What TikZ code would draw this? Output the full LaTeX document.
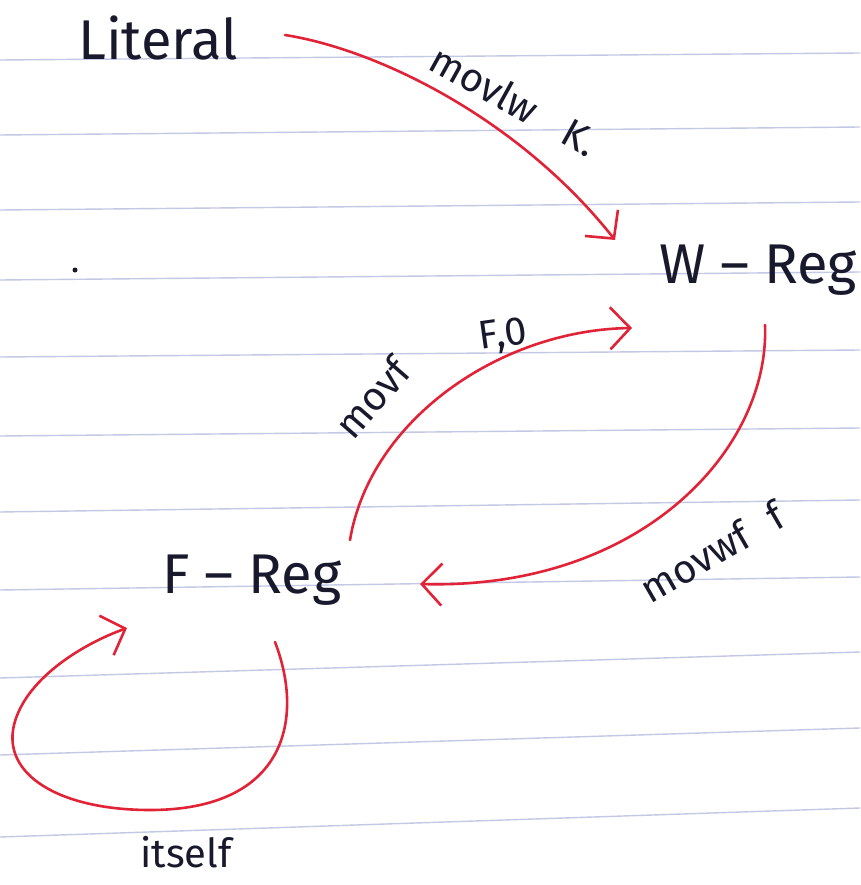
\documentclass[tikz,border=0pt]{standalone}
\usepackage{fontspec}
\setmainfont{Fira Sans}
\usetikzlibrary{arrows.meta}
\definecolor{ink}{RGB}{25,25,45}
\definecolor{pen}{RGB}{225,35,55}
\definecolor{rulecol}{RGB}{195,200,228}
\begin{document}
\begin{tikzpicture}[x=1pt,y=-1pt,
  lbl/.style={text=ink, font=\fontsize{56}{60}\selectfont, inner sep=0pt},
  elbl/.style={text=ink, font=\fontsize{40}{44}\selectfont, inner sep=0pt},
  conn/.style={draw=pen, line width=2.6pt, line cap=round,
    -{Straight Barb[length=20pt,width=42pt,line width=2.6pt]}},
  ruled/.style={draw=rulecol, line width=1.4pt}]
\useasboundingbox (0,0) rectangle (860,885);
\fill[white] (0,0) rectangle (860,885);
% ruled paper
\foreach \l/\r in {60/53,135/127,210/202,280/272,357/350,436/428,512/500,590/577,678/652,755/728,837/808}
  \draw[ruled] (0,\l) -- (860,\r);
% stray dot
\fill[ink] (75,270) circle (2.5pt);
% nodes
\node[lbl] (lit) at (158,38) {Literal};
\node[lbl] (wreg) at (758,270) {W -- Reg};
\node[lbl] (freg) at (252,580) {F -- Reg};
% connectors
\draw[conn] ([shift={(127,-3)}]lit.center) .. controls (380,50) and (520,120) .. ([shift={(-143,-30)}]wreg.center);
\draw[conn] ([shift={(98,-40)}]freg.center) .. controls (370,420) and (500,330) .. ([shift={(-126,58)}]wreg.center);
\draw[conn] ([shift={(7,55)}]wreg.center) .. controls (770,450) and (640,590) .. ([shift={(168,4)}]freg.center);
\draw[conn] ([shift={(23,62)}]freg.center) .. controls (305,720) and (285,810) .. (150,810)
  .. controls (60,810) and (2,775) .. (14,725)
  .. controls (25,680) and (80,645) .. ([shift={(-125,48)}]freg.center);
% edge labels
\node[elbl, rotate=-29] (l1) at (514,100) {movlw\hspace{34pt}K.};
\node[elbl, rotate=49] (l2a) at (372,398) {movf};
\node[elbl, rotate=8] (l2b) at (503,336) {F,0};
\node[elbl, rotate=30] (l3) at (712,552) {movwf\hspace{26pt}f};
\node[elbl] (l4) at (186,852) {itself};
\end{tikzpicture}
\end{document}
